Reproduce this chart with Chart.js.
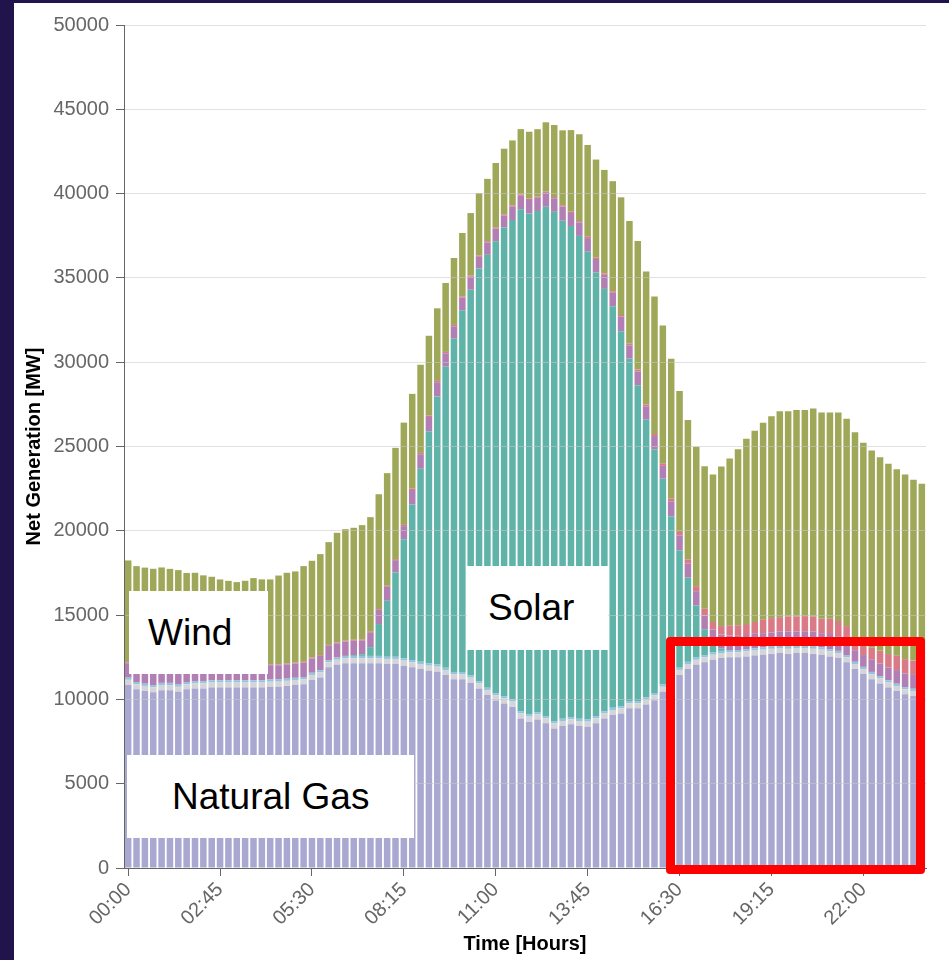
<!DOCTYPE html>
<html>
<head>
<meta charset="utf-8">
<script src="https://cdn.jsdelivr.net/npm/chart.js@4.4.1/dist/chart.umd.min.js"></script>
<style>
  html, body { margin: 0; padding: 0; background: #21134b; }
  body { width: 949px; height: 960px; overflow: hidden; position: relative; }
  #panel { position: absolute; left: 14px; top: 3px; width: 935px; height: 957px; background: #fff; overflow: hidden; }
  #genChart { position: absolute; left: 0; top: 0; background: #fff; }
  .note { position: absolute; background: #fff; color: #000; box-sizing: border-box;
          font: 37px "Liberation Sans", Arial, Helvetica, sans-serif; }
  #frame { position: absolute; box-sizing: border-box; border: 9px solid #ff0000; border-radius: 4px; }
</style>
</head>
<body>
<div id="panel">
  <canvas id="genChart" width="935" height="957"></canvas>
  <div class="note" style="left:115px;top:588px;width:139px;height:83px;line-height:83px;padding-left:19px;">Wind</div>
  <div class="note" style="left:453px;top:563px;width:141px;height:84px;line-height:84px;padding-left:21px;">Solar</div>
  <div class="note" style="left:113px;top:752px;width:287px;height:83px;line-height:83px;padding-left:45px;">Natural Gas</div>
  <div id="frame" style="left:652px;top:634px;width:259px;height:237px;"></div>
</div>
<script>
// 15-minute intervals, 00:00 .. 23:45
const times = [];
for (let h = 0; h < 24; h++) {
    for (let m = 0; m < 60; m += 15) {
        times.push(String(h).padStart(2, '0') + ':' + String(m).padStart(2, '0'));
    }
}

// Net generation by source [MW], stacked bottom to top
const naturalGas = [
    10850, 10600, 10500, 10420, 10550, 10550, 10450, 10600, 10650, 10650,
    10700, 10700, 10700, 10700, 10700, 10700, 10700, 10750, 10750, 10800,
    10850, 10900, 11150, 11300, 11900, 12050, 12150, 12150, 12150, 12150,
    12150, 12100, 12100, 12000, 11900, 11800, 11700, 11640, 11440, 11200,
    11200, 10990, 10650, 10260, 9940, 9760, 9570, 8870, 8680, 8810,
    8580, 8280, 8420, 8520, 8420, 8380, 8580, 8870, 9070, 9170,
    9470, 9470, 9700, 9950, 10450, 11000, 11450, 11800, 12050, 12200,
    12350, 12450, 12500, 12500, 12550, 12600, 12650, 12700, 12750, 12700,
    12750, 12750, 12700, 12650, 12550, 12450, 12200, 11800, 11500, 11200,
    10950, 10700, 10500, 10300, 10200, 10150
];
const nuclear = [
    310, 300, 300, 300, 300, 300, 300, 300, 300, 300,
    300, 300, 300, 300, 300, 300, 300, 300, 300, 300,
    300, 300, 300, 300, 300, 300, 300, 300, 300, 300,
    300, 300, 300, 300, 300, 300, 300, 300, 300, 300,
    300, 300, 300, 300, 300, 300, 300, 300, 300, 300,
    300, 300, 300, 300, 300, 300, 300, 300, 300, 300,
    300, 300, 300, 300, 300, 300, 300, 300, 300, 300,
    300, 300, 300, 300, 300, 300, 300, 300, 300, 300,
    300, 300, 300, 300, 300, 300, 300, 300, 300, 300,
    300, 300, 300, 300, 300, 300
];
const largeHydro = [
    130, 130, 130, 130, 130, 130, 130, 130, 130, 130,
    130, 130, 130, 130, 130, 130, 130, 130, 130, 130,
    130, 130, 130, 130, 130, 130, 130, 130, 130, 130,
    130, 130, 130, 130, 130, 130, 130, 130, 130, 130,
    130, 130, 130, 130, 130, 130, 130, 130, 130, 130,
    130, 130, 130, 130, 130, 130, 130, 130, 130, 130,
    130, 130, 130, 130, 130, 130, 130, 130, 130, 130,
    130, 130, 130, 130, 130, 130, 130, 130, 130, 130,
    130, 130, 130, 130, 130, 130, 130, 130, 130, 130,
    130, 130, 130, 130, 130, 130
];
const solar = [
    0, 0, 0, 0, 0, 0, 0, 0, 0, 0,
    0, 0, 0, 0, 0, 0, 0, 0, 0, 0,
    0, 0, 0, 0, 0, 0, 0, 50, 100, 520,
    1890, 3320, 5000, 7070, 9230, 11450, 13780, 15900, 17870, 19770,
    21450, 22880, 24480, 25680, 26800, 27800, 28430, 29770, 29710, 29730,
    30210, 30210, 29540, 29130, 28640, 27750, 26310, 25050, 23820, 22240,
    20310, 18740, 16460, 14440, 12210, 9440, 6960, 4990, 3090, 1530,
    600, 150, 0, 0, 0, 0, 0, 0, 0, 0,
    0, 0, 0, 0, 0, 0, 0, 0, 0, 0,
    0, 0, 0, 0, 0, 0
];
const geothermal = [
    860, 850, 840, 850, 850, 845, 850, 840, 850, 855,
    850, 850, 845, 850, 850, 850, 855, 850, 845, 850,
    850, 850, 850, 850, 850, 850, 850, 850, 800, 850,
    840, 830, 730, 780, 860, 860, 840, 840, 790, 730,
    750, 770, 690, 730, 750, 700, 790, 800, 800, 780,
    820, 800, 840, 770, 800, 800, 800, 830, 800, 860,
    790, 810, 790, 800, 760, 880, 890, 840, 850, 820,
    760, 820, 860, 840, 840, 860, 850, 840, 850, 890,
    840, 860, 890, 850, 900, 870, 870, 690, 700, 750,
    750, 760, 810, 810, 820, 820
];
const batteries = [
    50, 50, 50, 50, 50, 50, 50, 50, 50, 50,
    50, 50, 50, 50, 50, 50, 50, 50, 50, 50,
    50, 50, 50, 50, 50, 50, 50, 60, 60, 60,
    50, 60, 60, 70, 80, 80, 80, 80, 80, 80,
    80, 80, 80, 80, 80, 80, 80, 80, 80, 80,
    80, 80, 80, 80, 80, 80, 80, 90, 90, 100,
    100, 110, 110, 120, 130, 150, 200, 250, 300, 400,
    450, 500, 600, 620, 650, 700, 800, 850, 850, 900,
    900, 900, 900, 850, 900, 900, 850, 550, 650, 700,
    750, 800, 850, 850, 850, 900
];
const wind = [
    6042, 5975, 5996, 5997, 5946, 5867, 5888, 5580, 5530, 5372,
    5243, 5085, 5006, 4927, 5006, 5164, 5085, 5035, 5272, 5380,
    5409, 5675, 5742, 5987, 6098, 6501, 6619, 6638, 6796, 6800,
    6810, 6680, 6600, 6065, 5622, 5229, 4738, 4306, 4089, 3971,
    3754, 3695, 3696, 3696, 3814, 3893, 3854, 3874, 3971, 3992,
    4109, 4267, 4443, 4836, 5151, 5446, 5819, 6134, 6526, 6979,
    7274, 7629, 7884, 8159, 8198, 8310, 8358, 8260, 8260, 8442,
    8754, 9465, 9901, 10454, 10987, 11343, 11678, 11975, 12213, 12173,
    12252, 12232, 12331, 12232, 12232, 12371, 12291, 12379, 11942, 11684,
    11485, 11285, 11067, 10947, 10729, 10492
];
const yTicks = [0, 5000, 10000, 15000, 20000, 25000, 30000, 35000, 40000, 45000, 50000];

const FONT = '"Liberation Sans", Arial, Helvetica, sans-serif';
Chart.defaults.font.family = FONT;

function makeSet(label, data, color) {
    return {
        label: label,
        data: data,
        backgroundColor: color,
        borderWidth: 0,
        categoryPercentage: 1.0,
        barPercentage: 0.78
    };
}

function createGenerationChart() {
    const ctx = document.getElementById('genChart');
    if (!ctx) return;

    new Chart(ctx, {
        type: 'bar',
        data: {
            labels: times,
            datasets: [
                makeSet('Natural Gas', naturalGas, '#a8a8d0'),
                makeSet('Nuclear', nuclear, '#d5d5d8'),
                makeSet('Large Hydro', largeHydro, '#92c4e0'),
                makeSet('Solar', solar, '#5fb3a8'),
                makeSet('Geothermal', geothermal, '#b17fb4'),
                makeSet('Batteries', batteries, '#d97a86'),
                makeSet('Wind', wind, '#9ea858')
            ]
        },
        options: {
            responsive: false,
            animation: false,
            devicePixelRatio: 1,
            layout: { padding: { top: 22, right: 23, left: 0, bottom: 0 } },
            plugins: {
                legend: { display: false },
                tooltip: { enabled: false }
            },
            scales: {
                x: {
                    stacked: true,
                    offset: true,
                    afterFit: (scale) => { scale.height = 92; },
                    grid: {
                        display: true,
                        drawOnChartArea: false,
                        offset: false,
                        tickLength: 8,
                        tickColor: (c) => (c.index % 11 === 0 ? '#666' : 'rgba(0,0,0,0)')
                    },
                    border: { display: true, color: '#666', z: 2 },
                    ticks: {
                        autoSkip: false,
                        maxRotation: 45,
                        minRotation: 45,
                        color: '#666',
                        padding: 2,
                        font: { size: 20 },
                        callback: function (value, index) {
                            return index % 11 === 0 ? times[index] : '';
                        }
                    },
                    title: {
                        display: true,
                        text: 'Time [Hours]',
                        color: '#000',
                        padding: { top: 4, bottom: 4 },
                        font: { size: 20, weight: 'bold' }
                    }
                },
                y: {
                    stacked: true,
                    min: 0,
                    max: 50000,
                    afterFit: (scale) => { scale.width = 110; },
                    afterBuildTicks: (scale) => { scale.ticks = yTicks.map(v => ({ value: v })); },
                    grid: {
                        color: 'rgba(200,200,200,0.55)',
                        tickColor: '#666',
                        tickLength: 8,
                        z: 1
                    },
                    border: { display: true, color: '#666', z: 2 },
                    ticks: {
                        color: '#666',
                        padding: 7,
                        font: { size: 20 },
                        callback: (v) => String(v)
                    },
                    title: {
                        display: true,
                        text: 'Net Generation [MW]',
                        color: '#000',
                        padding: { top: 8, bottom: 4 },
                        font: { size: 20, weight: 'bold' }
                    }
                }
            }
        }
    });
}

createGenerationChart();
</script>
</body>
</html>
